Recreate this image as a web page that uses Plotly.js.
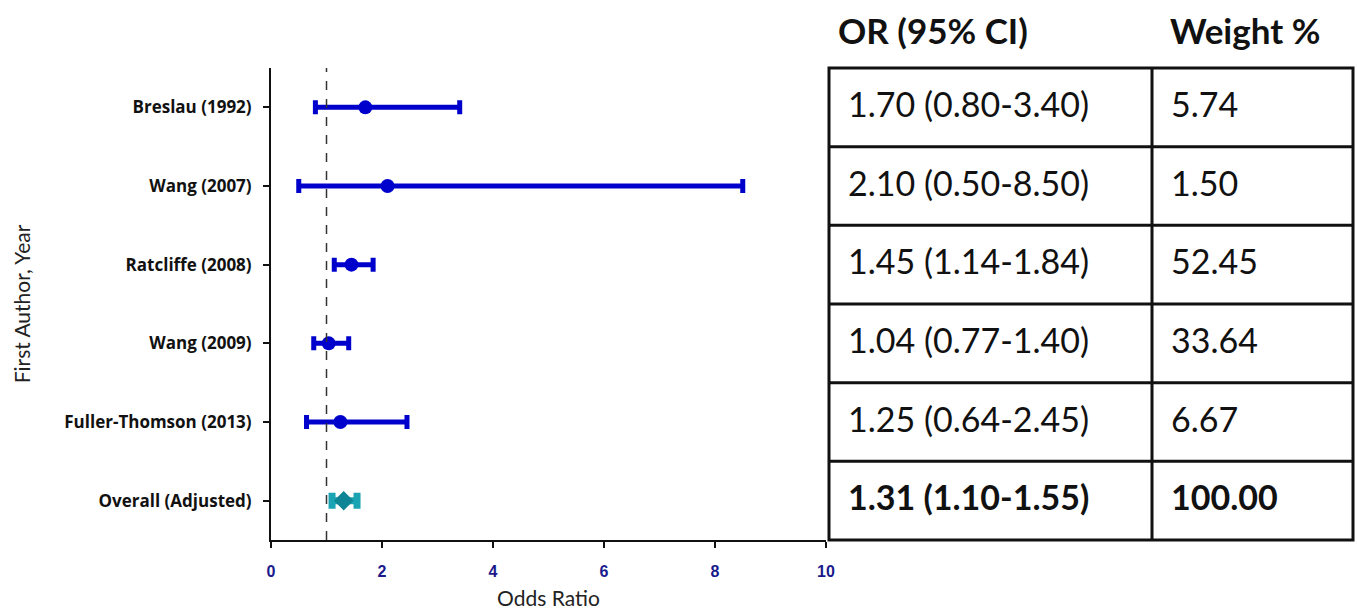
<!DOCTYPE html>
<html>
<head>
<meta charset="utf-8">
<script src="https://cdn.plot.ly/plotly-3.0.1.min.js"></script>
<style>html,body{margin:0;padding:0;background:#fff;}#chart{width:1357px;height:614px;}</style>
</head>
<body>
<div id="chart"></div>
<script>
// Data
var studies = ["Breslau (1992)", "Wang (2007)", "Ratcliffe (2008)", "Wang (2009)", "Fuller-Thomson (2013)", "Overall (Adjusted)"];
var oddsRatio = [1.70, 2.10, 1.45, 1.04, 1.25, 1.31];
var ciLower = [0.80, 0.50, 1.14, 0.77, 0.64, 1.10];
var ciUpper = [3.40, 8.50, 1.84, 1.40, 2.45, 1.55];
var weights = ["5.74", "1.50", "52.45", "33.64", "6.67", "100.00"];
var xTicks = [0, 2, 4, 6, 8, 10];
var refLine = 1;

function fmt(v){ return v.toFixed(2); }
var orText = oddsRatio.map(function(v,i){ return fmt(v) + " (" + fmt(ciLower[i]) + "-" + fmt(ciUpper[i]) + ")"; });

var nStudy = studies.length - 1;
var sY = studies.slice(0, nStudy);
var sX = oddsRatio.slice(0, nStudy);
var sPlus = sX.map(function(v,i){ return ciUpper[i]-v; });
var sMinus = sX.map(function(v,i){ return v-ciLower[i]; });

var traces = [
  {
    type: "scatter", mode: "markers",
    x: sX, y: sY,
    marker: {symbol: "circle", size: 14, color: "#0000cc"},
    error_x: {type: "data", symmetric: false, array: sPlus, arrayminus: sMinus, color: "#0000cc", thickness: 5, width: 7},
    hoverinfo: "x+y", showlegend: false
  },
  {
    type: "scatter", mode: "markers",
    x: [oddsRatio[nStudy]], y: [studies[nStudy]],
    marker: {symbol: "diamond", size: 15, color: "#0f8494"},
    error_x: {type: "data", symmetric: false, array: [ciUpper[nStudy]-oddsRatio[nStudy]], arrayminus: [oddsRatio[nStudy]-ciLower[nStudy]], color: "#1aa3b3", thickness: 7, width: 8},
    hoverinfo: "x+y", showlegend: false
  }
];

var L = 271, R = 826, T = 68, B = 540, W = 1357, H = 614;
function px2paperX(p){ return (p - L) / (R - L); }
function py2paperY(p){ return (B - p) / (B - T); }

var shapes = [
  {type: "line", xref: "x", yref: "paper", x0: refLine, x1: refLine, y0: 0, y1: 1,
   line: {color: "#333", width: 1.5, dash: "dash"}}
];
// table grid
var tx0 = px2paperX(829), tx1 = px2paperX(1353), txm = px2paperX(1152);
shapes.push({type: "rect", xref: "paper", yref: "paper", x0: tx0, x1: tx1, y0: 0, y1: 1, line: {color: "#111", width: 3}});
shapes.push({type: "line", xref: "paper", yref: "paper", x0: txm, x1: txm, y0: 0, y1: 1, line: {color: "#111", width: 3}});
for (var k = 1; k < studies.length; k++) {
  shapes.push({type: "line", xref: "paper", yref: "paper", x0: tx0, x1: tx1, y0: k/studies.length, y1: k/studies.length, line: {color: "#111", width: 3}});
}

var annotations = [];
var tfont = "Lato, 'Open Sans', sans-serif";
studies.forEach(function(s, i){
  var bold = (i === studies.length - 1);
  annotations.push({xref: "paper", yref: "y", x: px2paperX(846), y: s, xanchor: "left", yanchor: "middle", yshift: 4,
    text: bold ? "<b>" + orText[i] + "</b>" : orText[i], showarrow: false,
    font: {family: tfont, size: 34, color: "#111"}});
  annotations.push({xref: "paper", yref: "y", x: px2paperX(1169), y: s, xanchor: "left", yanchor: "middle", yshift: 4,
    text: bold ? "<b>" + weights[i] + "</b>" : weights[i], showarrow: false,
    font: {family: tfont, size: 34, color: "#111"}});
});
annotations.push({xref: "paper", yref: "paper", x: px2paperX(836), y: py2paperY(30), xanchor: "left", yanchor: "middle",
  text: "<b>OR (95% CI)</b>", showarrow: false, font: {family: tfont, size: 35, color: "#111"}});
annotations.push({xref: "paper", yref: "paper", x: px2paperX(1168), y: py2paperY(30), xanchor: "left", yanchor: "middle",
  text: "<b>Weight %</b>", showarrow: false, font: {family: tfont, size: 35, color: "#111"}});

var layout = {
  width: W, height: H,
  margin: {l: L, r: W - R, t: T, b: H - B, pad: 0},
  paper_bgcolor: "#fff", plot_bgcolor: "#fff",
  xaxis: {
    range: [0, 10], tickvals: xTicks, ticktext: xTicks.map(String),
    showgrid: false, zeroline: false, showline: true, linecolor: "#111", linewidth: 2,
    ticks: "outside", ticklen: 6, tickwidth: 2, tickcolor: "#111", ticklabelstandoff: 10,
    tickfont: {family: "Arial, 'Liberation Sans', sans-serif", size: 16, color: "#1a1a8c", weight: "bold"},
    title: {text: "Odds Ratio", standoff: 12, font: {family: tfont, size: 21, color: "#222"}},
    fixedrange: true
  },
  yaxis: {
    type: "category", categoryorder: "array", categoryarray: studies,
    range: [studies.length - 0.5, -0.5],
    showgrid: false, zeroline: false, showline: true, linecolor: "#111", linewidth: 2,
    ticks: "outside", ticklen: 6, tickwidth: 2, tickcolor: "#111", ticklabelstandoff: 8,
    tickfont: {family: "'Open Sans', Lato, sans-serif", size: 17, color: "#111", weight: "bold"},
    title: {text: "First Author, Year", standoff: 28, font: {family: tfont, size: 21, color: "#222"}},
    fixedrange: true
  },
  shapes: shapes,
  annotations: annotations,
  showlegend: false
};

Plotly.newPlot("chart", traces, layout, {displayModeBar: false, staticPlot: true});
</script>
</body>
</html>
